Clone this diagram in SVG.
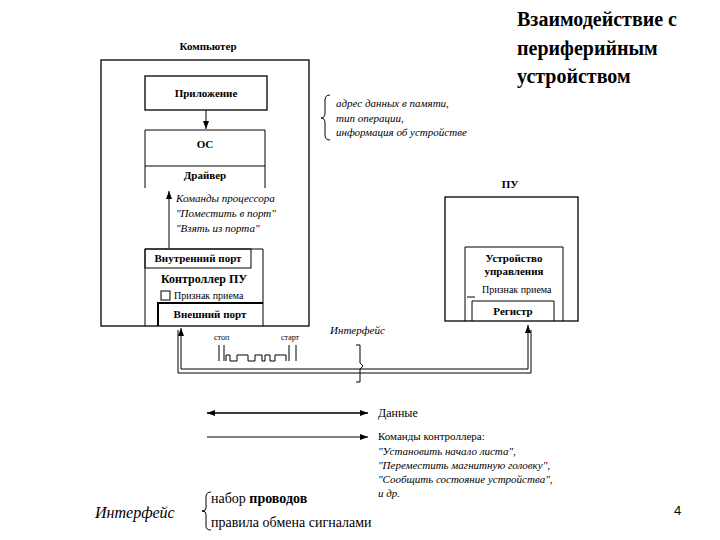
<svg xmlns="http://www.w3.org/2000/svg" width="720" height="540" viewBox="0 0 720 540">
<style>
text{font-family:"Liberation Serif","Times New Roman",serif}
.b{fill:none;stroke:#000;stroke-width:1.3}
.t{font-size:11px;font-weight:bold;text-anchor:middle}
.i{font-size:11px;font-style:italic}
.n{font-size:11px}
.l{stroke:#000;stroke-width:1;fill:none}
</style>
<defs><marker id="a" markerWidth="8" markerHeight="6" refX="8" refY="3" orient="auto-start-reverse" markerUnits="userSpaceOnUse"><path d="M0,0L8,3L0,6z"/></marker></defs>
<rect width="720" height="540" fill="#fff"/>
<g id="title"><text x="517" y="26" style="font-size:20px;font-weight:bold">Взаимодействие с</text><text x="517" y="55" style="font-size:20px;font-weight:bold">периферийным</text><text x="517" y="83" style="font-size:20px;font-weight:bold">устройством</text></g>
<g id="computer"><rect class="b" x="101" y="60" width="208" height="266"/><text class="t" x="208" y="50">Компьютер</text></g>
<g id="app"><rect class="b" x="145" y="76" width="122" height="34"/><text class="t" x="206" y="97">Приложение</text></g>
<g id="os"><path class="l" d="M145,188V130H265V188M145,166H265"/><text class="t" x="205" y="148">ОС</text><text class="t" x="205" y="179">Драйвер</text></g>
<g id="controller"><path class="l" d="M145,326V249H263V326"/><rect class="l" x="145" y="249" width="106" height="19"/><text class="t" x="198" y="262">Внутренний порт</text><text class="t" x="204" y="283" style="font-size:12px">Контроллер ПУ</text><rect class="l" x="161" y="291" width="9" height="9"/><text class="n" x="174" y="299" style="font-size:10px">Признак приема</text><path class="l" d="M158,326V303H263" style="stroke-width:2"/><text class="t" x="210" y="318">Внешний порт</text></g>
<g id="pu"><rect class="b" x="445" y="197" width="133" height="124"/><text class="t" x="510" y="188">ПУ</text><path class="l" d="M465,321V247H563V321"/><text class="t" x="514" y="262">Устройство</text><text class="t" x="514" y="275">управления</text><path class="l" d="M467,297H475"/><text class="n" x="482" y="293" style="font-size:10px">Признак приема</text><path class="l" d="M472,321V301H554V321"/><text class="t" x="513" y="315">Регистр</text></g>
<g id="notes"><path class="l" d="M330,95Q325,95 325,100V113Q325,118 321,118Q325,118 325,123V135Q325,140 330,140"/><text class="i" x="336" y="107">адрес данных в памяти,</text><text class="i" x="336" y="122">тип операции,</text><text class="i" x="336" y="136">информация об устройстве</text><text class="i" x="176" y="202">Команды процессора</text><text class="i" x="176" y="217">"Поместить в порт"</text><text class="i" x="176" y="232">"Взять из порта"</text><text class="i" x="330" y="334">Интерфейс</text><text class="n" x="214" y="340" style="font-size:8px">стоп</text><text class="n" x="281" y="340" style="font-size:8px">старт</text></g>
<g id="connectors">
<path class="l" d="M206,110V129" marker-end="url(#a)"/>
<path class="l" d="M169,248V191" marker-end="url(#a)"/>
<path class="l" d="M181,369V328" marker-end="url(#a)"/>
<path class="l" d="M178,373V330M178,373H531V330"/>
<path class="l" d="M181,369H528V325" marker-end="url(#a)"/>
<path class="l" d="M219,345V361M224,345V361M226,361V355H230V361H237V355H248V361H255V355H262V361H265V355H270V361H275V355H286V361M289,345V361M296,345V361"/>
<path class="l" d="M356,345H360V363L363,366L360,369V382H356"/>
</g>
<g id="legend">
<path class="l" d="M207,413H368" style="stroke-width:1.5" marker-start="url(#a)" marker-end="url(#a)"/>
<text class="n" x="378" y="417" style="font-size:12px">Данные</text>
<path class="l" d="M207,437H368" marker-end="url(#a)"/>
<text class="n" x="378" y="440">Команды контроллера:</text>
<text class="i" x="378" y="455">"Установить начало листа",</text>
<text class="i" x="378" y="469">"Переместить магнитную головку",</text>
<text class="i" x="378" y="483">"Сообщить состояние устройства",</text>
<text class="i" x="378" y="497">и др.</text>
<text class="i" x="95" y="518" style="font-size:16px">Интерфейс</text>
<path class="l" d="M211,492Q206,492 206,497V508Q206,511 202,511Q206,511 206,514V526Q206,530 211,530"/>
<text class="n" x="211" y="503" style="font-size:14px">набор <tspan style="font-weight:bold">проводов</tspan></text>
<text class="n" x="211" y="527" style="font-size:14px">правила обмена сигналами</text>
<text x="674" y="515" style="font-family:'Liberation Sans',sans-serif;font-size:13px">4</text>
</g>
</svg>
